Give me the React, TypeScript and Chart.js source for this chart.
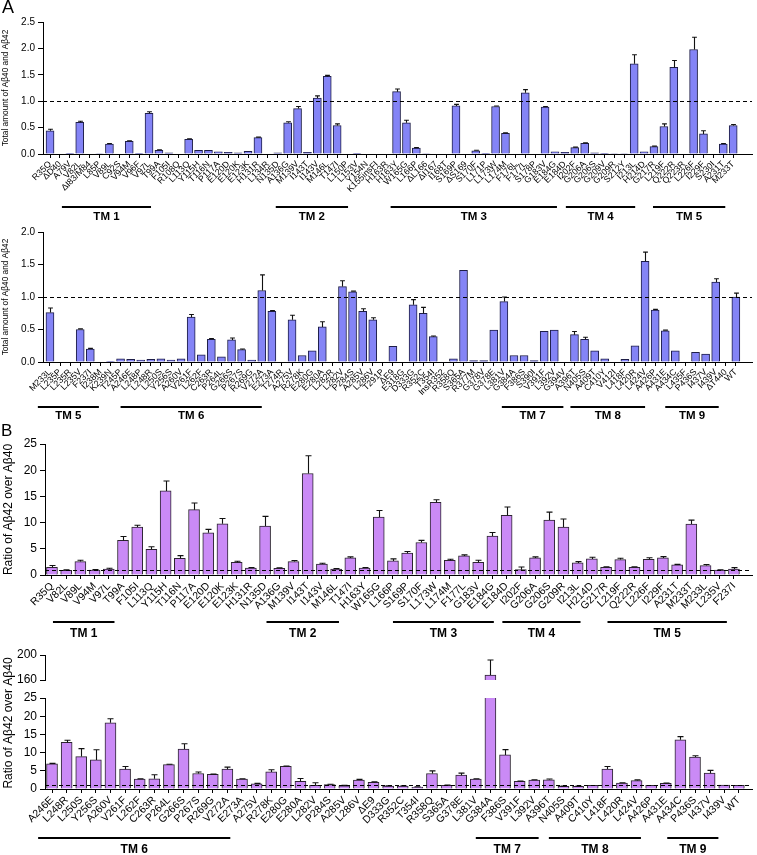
import React, { useEffect, useRef } from 'react';
import { Chart, registerables } from 'chart.js';

Chart.register(...registerables);

const FONT = '"Liberation Sans", Arial, Helvetica, sans-serif';
const BLUE = 'rgb(132, 132, 246)';
const BLUE_EDGE = '#1e1e48';
const PURPLE = 'rgb(202, 138, 246)';
const PURPLE_EDGE = '#2c2430';

// ---------- Panel A, upper row: total amount of Aβ40 and Aβ42 ----------
const A1_LABELS = ['R35Q','ΔD40','A79V','V82L','ΔI83/M84','L85P','V89L','C92S','V94M','V96F','V97L','T99A','F105I','R108Q','L113Q','Y115H','T116N','P117A','E120D','E120K','E123K','H131R','L134R','N135D','A136G','M139V','I143T','I143V','M146L','T147I','L150P','L153V','Y154N','K155insFI','H163R','H163Y','W165G','L166P','ΔL166','ΔI167','I168T','S169P','ΔS169','S170F','L171P','L173W','L174M','F176L','F177L','S178P','G183V','E184G','E184D','I202F','G206A','G206S','G209V','G209R','S212Y','I213L','H214D','G217R','L219F','Q222R','Q223R','L226F','I229F','S230I','A231T','M233T'];
const A1_VALUES = [0.44,0,0.005,0.6,0,0.01,0.19,0,0.24,0.005, 0.77,0.07,0.02,0,0.28,0.07,0.07,0.04,0.03,0.02, 0.05,0.31,0,0.02,0.59,0.86,0.03,1.06,1.47,0.54, 0,0.005,0,0,0,1.18,0.59,0.11,0.01,0, 0,0.91,0,0.06,0.005,0.9,0.39,0,1.16,0, 0.89,0.04,0.03,0.12,0.2,0.02,0.005,0.01,0.01,1.71, 0.04,0.14,0.52,1.64,0,1.98,0.38,0,0.19,0.54];
const A1_ERRORS = [0.03,0,0,0.02,0,0,0.01,0,0.01,0, 0.03,0.01,0,0,0.01,0,0,0,0,0, 0,0.01,0,0,0.02,0.04,0,0.04,0.02,0.03, 0,0,0,0,0,0.05,0.05,0.01,0,0, 0,0.03,0,0.01,0,0.01,0.01,0,0.06,0, 0.01,0,0,0.01,0.01,0,0,0,0,0.17, 0,0.01,0.05,0.13,0,0.23,0.06,0,0.01,0.02];
const A1_TM_NAMES = ['TM 1','TM 2','TM 3','TM 4','TM 5'];
const A1_TM_START = [1.2, 22.8, 34.4, 52.1, 60.9];
const A1_TM_END = [10.2, 30.1, 51.2, 59.1, 68.2];

// ---------- Panel A, lower row ----------
const A2_LABELS = ['M233L','L235P','L235R','L235V','F237I','I238M','K239N','T245P','A246E','L248P','L248R','L250S','Y256S','A260V','V261F','L262F','C263R','P264L','G266S','P267S','R269G','V272A','E273A','T274R','A275V','R278K','E280G','E280A','L282R','L282V','P284S','A285V','L286V','T291P','ΔE9','E318G','D333G','R352C','T354I','InsR352','R358Q','S365A','R377M','G378V','G378E','L381V','G384A','F386S','S390I','V391F','L392V','G394V','A396T','N405S','A409T','C410Y','V412I','L418F','L420R','L424V','A426P','A431E','A434C','L435F','P436S','I437V','I439V','ΔT440','WT'];
const A2_VALUES = [0.76,0,0,0.5,0.2,0,0.01,0.05,0.04,0.03, 0.04,0.05,0.03,0.05,0.69,0.11,0.35,0.08,0.34,0.19, 0.03,1.1,0.78,0,0.65,0.1,0.17,0.54,0,1.16, 1.08,0.78,0.65,0,0.24,0,0.88,0.75,0.39,0, 0.05,1.41,0.02,0.02,0.49,0.93,0.1,0.1,0.02,0.47, 0.49,0,0.42,0.35,0.17,0.05,0,0.04,0.25,1.55, 0.8,0.48,0.17,0,0.15,0.12,1.23,0,1.0];
const A2_ERRORS = [0.07,0,0,0.01,0.01,0,0,0,0,0, 0,0,0,0,0.04,0,0.01,0,0.03,0.01, 0,0.24,0.01,0,0.07,0,0,0.08,0,0.09, 0.01,0.04,0.03,0,0,0,0.08,0.09,0.01,0, 0,0,0,0,0,0.07,0,0,0,0, 0,0,0.05,0.03,0,0,0,0,0,0.14, 0.01,0.01,0,0,0,0,0.05,0,0.06];
const A2_TM_NAMES = ['TM 5','TM 6','TM 7','TM 8','TM 9'];
const A2_TM_START = [-1.2, 7.0, 44.8, 51.6, 61.0];
const A2_TM_END = [4.85, 21.0, 50.9, 59.0, 66.3];

// ---------- Panel B, upper row: ratio Aβ42 / Aβ40 ----------
const B1_LABELS = ['R35Q','V82L','V89L','V94M','V97L','T99A','F105I','L113Q','Y115H','T116N','P117A','E120D','E120K','E123K','H131R','N135D','A136G','M139V','I143T','I143V','M146L','T147I','H163Y','W165G','L166P','S169P','S170F','L173W','L174M','F177L','G183V','E184G','E184D','I202F','G206A','G206S','G209R','I213L','H214D','G217R','L219F','Q222R','L226F','I229F','A231T','M233T','M233L','L235V','F237I'];
const B1_VALUES = [1.47,0.9,2.56,0.96,1.15,6.6,9.14,4.92,16.05,3.2, 12.47,8.06,9.78,2.43,1.34,9.33,1.28,2.56,19.37,2.1, 1.15,3.26,1.34,11.06,2.69,4.16,6.2,13.87,2.81,3.64, 2.43,7.42,11.38,1.02,3.26,10.49,9.14,2.3,3.07,1.47, 2.94,1.47,3.0,3.26,1.92,9.72,1.79,0.96,1.15];
const B1_ERRORS = [0.33,0.1,0.25,0.1,0.15,0.75,0.36,0.48,1.9,0.5, 1.28,0.64,1.0,0.2,0.1,1.85,0.1,0.2,3.4,0.15, 0.1,0.2,0.1,1.25,0.38,0.32,0.4,0.5,0.2,0.2, 0.38,0.7,1.6,0.5,0.2,1.5,1.55,0.26,0.32,0.1, 0.26,0.1,0.3,0.25,0.1,0.75,0.2,0.05,0.25];
const B1_TM_NAMES = ['TM 1','TM 2','TM 3','TM 4','TM 5'];
const B1_TM_START = [0.07, 15.1, 24.0, 31.7, 39.1];
const B1_TM_END = [4.4, 20.2, 31.1, 37.2, 47.5];

// ---------- Panel B, lower row (broken axis) ----------
const B2_LABELS = ['A246E','L248R','L250S','Y256S','A260V','V261F','L262F','C263R','P264L','G266S','P267S','R269G','V272A','E273A','A275V','R278K','E280G','E280A','L282V','P284S','A285V','L286V','ΔE9','D333G','R352C','T354I','R358Q','S365A','G378E','L381V','G384A','F386S','V391F','L392V','A396T','N405S','A409T','C410Y','L418F','L420R','L424V','A426P','A431E','A434C','P436S','I437V','I439V','WT'];
const B2_VALUES = [6.9,12.8,8.9,8.0,18.2,5.45,2.7,2.8,6.7,11.0, 4.27,4.0,5.45,2.7,1.45,4.7,6.2,2.1,1.0,1.2, 0.9,2.45,1.8,0.8,0.8,0.55,4.27,1.0,3.8,2.7, 168,9.36,2.1,2.45,2.55,0.7,0.7,1.0,5.5,1.6, 2.3,1.0,1.55,13.5,8.8,4.36,1.1,1.0];
const B2_ERRORS = [0.15,0.6,2.2,2.8,1.1,0.75,0.1,1.1,0.1,1.45, 0.4,0.1,0.55,0.1,0.1,0.6,0.1,0.8,0.7,0.1, 0.1,0.2,0.2,0.1,0.1,0.05,0.7,0.1,0.55,0.1, 24,1.45,0.1,0.1,0.2,0.1,0.1,0,0.7,0.1, 0.2,0,0.1,0.9,0.35,0.75,0,0];
const B2_TM_NAMES = ['TM 6','TM 7','TM 8','TM 9'];
const B2_TM_START = [-0.95, 29.0, 34.0, 42.1];
const B2_TM_END = [12.2, 33.3, 40.3, 45.6];
const B2_BREAK_LOW = 25;
const B2_UPPER_TICKS = [160, 200];

type Spec = {
  top: number; height: number;
  labels: string[]; values: (number | null)[]; errors: number[];
  color: string; edge: string;
  xMin: number; xMax: number; yMin: number; yMax: number;
  yStep?: number; yTickValues?: number[]; yDecimals: number;
  yTitle?: string; yTitleSize?: number;
  xFontSize: number; yFontSize: number; showX: boolean;
  padTop: number; padBottom: number; padRight: number;
  xAxisHeight: number; yAxisWidth: number;
  barThickness: number; cap: number;
  refLine?: number;
  tmNames?: string[]; tmStart?: number[]; tmEnd?: number[];
  tmBarDy?: number; tmTextDy?: number; tmFontSize?: number;
  freeTitle?: { text: string; x: number; y: number; size: number };
};

const SPEC_A1: Spec = {
  top: 0, height: 225, labels: A1_LABELS, values: A1_VALUES, errors: A1_ERRORS,
  color: BLUE, edge: BLUE_EDGE, xMin: -0.71, xMax: 70.9, yMin: 0, yMax: 2.5, yStep: 0.5, yDecimals: 1,
  yTitle: 'Total amount of Aβ40 and Aβ42', yTitleSize: 8.3, xFontSize: 8.8, yFontSize: 10, showX: true,
  padTop: 22, padBottom: 0, padRight: 5, xAxisHeight: 71, yAxisWidth: 43, barThickness: 8, cap: 2.4,
  refLine: 1, tmNames: A1_TM_NAMES, tmStart: A1_TM_START, tmEnd: A1_TM_END, tmBarDy: 53, tmTextDy: 63, tmFontSize: 11.5,
};
const SPEC_A2: Spec = {
  top: 225, height: 200, labels: A2_LABELS, values: A2_VALUES, errors: A2_ERRORS,
  color: BLUE, edge: BLUE_EDGE, xMin: -0.69, xMax: 69.6, yMin: 0, yMax: 2.0, yStep: 0.5, yDecimals: 1,
  yTitle: 'Total amount of Aβ40 and Aβ42', yTitleSize: 8.3, xFontSize: 8.8, yFontSize: 10, showX: true,
  padTop: 7, padBottom: 0, padRight: 5, xAxisHeight: 63, yAxisWidth: 43, barThickness: 8, cap: 2.4,
  refLine: 1, tmNames: A2_TM_NAMES, tmStart: A2_TM_START, tmEnd: A2_TM_END, tmBarDy: 45, tmTextDy: 54, tmFontSize: 11.5,
};
const SPEC_B1: Spec = {
  top: 425, height: 215, labels: B1_LABELS, values: B1_VALUES, errors: B1_ERRORS,
  color: PURPLE, edge: PURPLE_EDGE, xMin: -0.49, xMax: 49.27, yMin: 0, yMax: 25, yStep: 5, yDecimals: 0,
  yTitle: 'Ratio of Aβ42 over Aβ40', yTitleSize: 12, xFontSize: 10.5, yFontSize: 12, showX: true,
  padTop: 19, padBottom: 0, padRight: 5, xAxisHeight: 65, yAxisWidth: 45, barThickness: 11, cap: 3,
  refLine: 1, tmNames: B1_TM_NAMES, tmStart: B1_TM_START, tmEnd: B1_TM_END, tmBarDy: 47, tmTextDy: 59, tmFontSize: 12,
};
const SPEC_B2_LOW: Spec = {
  top: 640, height: 215, labels: B2_LABELS, values: B2_VALUES, errors: B2_ERRORS,
  color: PURPLE, edge: PURPLE_EDGE, xMin: -0.48, xMax: 47.9, yMin: 0, yMax: B2_BREAK_LOW, yStep: 5, yDecimals: 0,
  xFontSize: 10.5, yFontSize: 12, showX: true,
  padTop: 58, padBottom: 0, padRight: 5, xAxisHeight: 66, yAxisWidth: 45, barThickness: 11, cap: 3,
  refLine: 1, tmNames: B2_TM_NAMES, tmStart: B2_TM_START, tmEnd: B2_TM_END, tmBarDy: 49, tmTextDy: 61, tmFontSize: 12,
  freeTitle: { text: 'Ratio of Aβ42 over Aβ40', x: 9, y: 83, size: 12 },
};
const SPEC_B2_HIGH: Spec = {
  top: 645, height: 45, labels: B2_LABELS,
  values: B2_VALUES.map((v) => (v > B2_BREAK_LOW ? v : null)), errors: B2_ERRORS,
  color: PURPLE, edge: PURPLE_EDGE, xMin: -0.48, xMax: 47.9, yMin: 160, yMax: 200, yTickValues: B2_UPPER_TICKS, yDecimals: 0,
  xFontSize: 10.5, yFontSize: 12, showX: false,
  padTop: 10, padBottom: 10, padRight: 5, xAxisHeight: 0, yAxisWidth: 45, barThickness: 11, cap: 3,
};

function buildChart(canvas: HTMLCanvasElement, s: Spec) {
  const labels = s.labels;
  const decor = {
    id: 'decor',
    afterDatasetsDraw(chart: any) {
      const ctx = chart.ctx as CanvasRenderingContext2D;
      const ys = chart.scales.y;
      const area = chart.chartArea;
      const meta = chart.getDatasetMeta(0);
      ctx.save();
      ctx.strokeStyle = '#111';
      ctx.lineWidth = 1.1;
      ctx.beginPath();
      meta.data.forEach((el: any, i: number) => {
        const v = s.values[i];
        const e = s.errors[i];
        if (v === null || v === undefined || !e || v > s.yMax) return;
        const x = Math.round(el.x) + 0.5;
        const y0 = ys.getPixelForValue(v);
        const y1 = ys.getPixelForValue(v + e);
        ctx.moveTo(x, y0);
        ctx.lineTo(x, y1);
        ctx.moveTo(x - s.cap, y1);
        ctx.lineTo(x + s.cap, y1);
      });
      ctx.stroke();
      if (s.refLine !== undefined) {
        const y = Math.round(ys.getPixelForValue(s.refLine)) + 0.5;
        ctx.strokeStyle = '#000';
        ctx.lineWidth = 1;
        ctx.setLineDash([4, 3]);
        ctx.beginPath();
        ctx.moveTo(area.left, y);
        ctx.lineTo(area.right, y);
        ctx.stroke();
        ctx.setLineDash([]);
      }
      ctx.restore();
    },
    afterDraw(chart: any) {
      const ctx = chart.ctx as CanvasRenderingContext2D;
      const xs = chart.scales.x;
      const area = chart.chartArea;
      ctx.save();
      if (s.tmNames && s.tmStart && s.tmEnd) {
        const by = area.bottom + (s.tmBarDy || 0);
        const ty = area.bottom + (s.tmTextDy || 0);
        s.tmNames.forEach((name, k) => {
          const x0 = xs.getPixelForValue(s.tmStart![k]);
          const x1 = xs.getPixelForValue(s.tmEnd![k]);
          ctx.fillStyle = '#000';
          ctx.fillRect(x0, by - 1, x1 - x0, 2);
          ctx.font = `bold ${s.tmFontSize}px ${FONT}`;
          ctx.textAlign = 'center';
          ctx.textBaseline = 'middle';
          ctx.fillText(name, (x0 + x1) / 2, ty);
        });
      }
      if (s.freeTitle) {
        ctx.translate(s.freeTitle.x, s.freeTitle.y);
        ctx.rotate(-Math.PI / 2);
        ctx.font = `${s.freeTitle.size}px ${FONT}`;
        ctx.fillStyle = '#000';
        ctx.textAlign = 'center';
        ctx.textBaseline = 'middle';
        ctx.fillText(s.freeTitle.text, 0, 0);
      }
      ctx.restore();
    },
  };

  const yTicks: any = {
    color: '#000',
    padding: 3,
    font: { family: FONT, size: s.yFontSize },
    callback: (v: any) => Number(v).toFixed(s.yDecimals),
  };
  if (s.yStep) yTicks.stepSize = s.yStep;

  return new Chart(canvas, {
    type: 'bar',
    data: {
      datasets: [
        {
          data: s.values.map((v, i) => ({ x: i, y: v })) as any,
          backgroundColor: s.color,
          borderColor: s.edge,
          borderWidth: 1,
          barThickness: s.barThickness,
          borderSkipped: 'bottom',
        } as any,
      ],
    },
    options: {
      responsive: false,
      animation: false,
      devicePixelRatio: 1,
      events: [],
      layout: { padding: { top: s.padTop, right: s.padRight, bottom: s.padBottom, left: 0 } },
      plugins: { legend: { display: false }, tooltip: { enabled: false }, title: { display: false } },
      scales: {
        x: {
          type: 'linear',
          min: s.xMin,
          max: s.xMax,
          offset: false,
          display: s.showX,
          grid: { display: true, offset: false, drawOnChartArea: false, drawTicks: true, tickLength: 4, color: '#000', lineWidth: 1 },
          border: { display: true, color: '#000', width: 1 },
          ticks: {
            autoSkip: false,
            maxRotation: 45,
            minRotation: 45,
            padding: 1,
            color: '#000',
            font: { family: FONT, size: s.xFontSize },
            callback: (v: any) => labels[Math.round(Number(v))] ?? '',
          },
          afterBuildTicks: (sc: any) => {
            sc.ticks = labels.map((_, i) => ({ value: i }));
          },
          afterFit: (sc: any) => {
            sc.height = s.xAxisHeight;
            sc.paddingLeft = 0;
            sc.paddingRight = 0;
          },
        } as any,
        y: {
          type: 'linear',
          min: s.yMin,
          max: s.yMax,
          grid: { display: true, drawOnChartArea: false, drawTicks: true, tickLength: 5, color: '#000', lineWidth: 1 },
          border: { display: true, color: '#000', width: 1 },
          ticks: yTicks,
          title: s.yTitle
            ? { display: true, text: s.yTitle, color: '#000', font: { family: FONT, size: s.yTitleSize }, padding: { top: 1, bottom: 0 } }
            : { display: false },
          afterBuildTicks: (sc: any) => {
            if (s.yTickValues) sc.ticks = s.yTickValues.map((v) => ({ value: v }));
          },
          afterFit: (sc: any) => {
            sc.width = s.yAxisWidth;
            sc.paddingTop = 0;
            sc.paddingBottom = 0;
          },
        } as any,
      },
    },
    plugins: [decor as any],
  });
}

function ChartBox({ spec }: { spec: Spec }) {
  const ref = useRef<HTMLCanvasElement>(null);
  useEffect(() => {
    if (!ref.current) return;
    const chart = buildChart(ref.current, spec);
    return () => chart.destroy();
  }, [spec]);
  return (
    <canvas
      ref={ref}
      width={757}
      height={spec.height}
      style={{ position: 'absolute', left: 0, top: spec.top, width: 757, height: spec.height, display: 'block' }}
    />
  );
}

export default function App() {
  return (
    <div style={{ position: 'absolute', left: 0, top: 0, width: 757, height: 855, background: '#fff', overflow: 'hidden', fontFamily: FONT }}>
      <ChartBox spec={SPEC_A1} />
      <ChartBox spec={SPEC_A2} />
      <ChartBox spec={SPEC_B1} />
      <ChartBox spec={SPEC_B2_LOW} />
      <ChartBox spec={SPEC_B2_HIGH} />
      <div style={{ position: 'absolute', left: 2, top: -3, fontSize: 18, lineHeight: 'normal', color: '#000' }}>A</div>
      <div style={{ position: 'absolute', left: 1, top: 421, fontSize: 17, lineHeight: 'normal', color: '#000' }}>B</div>
    </div>
  );
}
